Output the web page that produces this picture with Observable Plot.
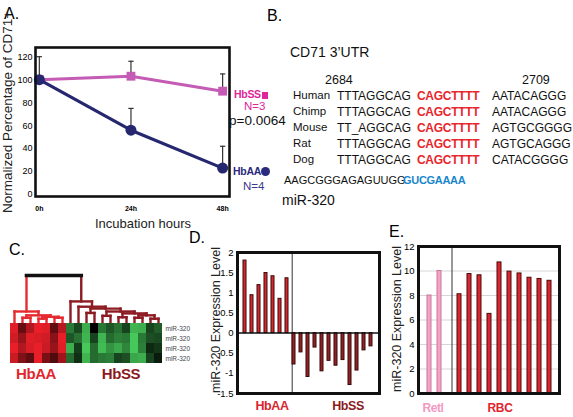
<!DOCTYPE html>
<html>
<head>
<meta charset="utf-8">
<script src="https://cdn.jsdelivr.net/npm/d3@7"></script>
<script src="https://cdn.jsdelivr.net/npm/@observablehq/plot@0.6"></script>
<style>
  html, body { margin: 0; padding: 0; background: #fff; }
  #root { position: relative; width: 573px; height: 417px; overflow: hidden; background: #fff;
          font-family: "Liberation Sans", Arial, Helvetica, sans-serif; }
  #root svg { position: absolute; }
  .t { position: absolute; white-space: nowrap; line-height: 1.15; }
</style>
</head>
<body>
<div id="root"></div>
<script>
// ---------------- DATA ----------------
// Panel A
const hours = [0, 24, 48];
const hbssMean = [100, 103, 90];
const hbssUpper = [120, 116, 105];
const hbaaMean = [100, 56, 23];
const hbaaUpper = [100, 75, 42];
const yTicksA = [0, 20, 40, 60, 80, 100, 120];

// Panel B
const species = ["Human", "Chimp", "Mouse", "Rat", "Dog"];
const seqLeft = ["TTTAGGCAG", "TTTAGGCAG", "TT_AGGCAG", "TTTAGGCAG", "TTTAGGCAG"];
const seqSeed = ["CAGCTTTT", "CAGCTTTT", "CAGCTTTT", "CAGCTTTT", "CAGCTTTT"];
const seqRight = ["AATACAGGG", "AATACAGGG", "AGTGCGGGG", "AGTGCAGGG", "CATACGGGG"];
const mirSeq = "AAGCGGGAGAGUUGG";
const mirSeed = "GUCGAAAA";

// Panel C heatmap (rows = miR-320 probes, columns = 7 HbAA + 12 HbSS samples)
const heatRow0 = [2.8, 1.3, 2.2, 2.9, 2.8, 1.2, 2.3, -1.8, -1.1, -2.6, 0.0, -1.8, -1.3, -1.7, -1.0, -2.7, -2.6, -1.0, -1.4];
const heatRow1 = [2.6, 1.9, 2.8, 2.7, 2.6, 1.7, 2.9, -1.3, -1.7, -2.7, -1.0, -2.7, -1.6, -1.9, -1.8, -3.0, -1.8, -1.2, -1.1];
const heatRow2 = [2.9, 2.2, 2.7, 2.9, 2.5, 1.9, 2.8, -2.6, -0.9, -3.0, -1.6, -2.8, -2.2, -2.5, -2.0, -3.0, -1.9, -0.6, -0.8];
const heatRow3 = [2.5, 1.6, 1.2, 2.9, 1.5, 1.0, 2.0, -1.6, -0.7, -2.7, -1.6, -1.8, -1.9, -1.0, -1.2, -2.5, -2.6, -1.0, -0.4];
// dendrogram: [height, child, child...]; numbers are leaf column indexes
const dendroTree = [10,
  [2.5, 0, [1.7, [1.2, 1, 2], [1.4, [1.0, 3, 4], [1.2, 5, 6]]]],
  [4.6, 7, [3.5, 8, [3.1, [2.2, 9, 10], [2.5, [1.6, 11, 12], [2.1, [1.3, 13, 14], [1.7, [1.2, 15, 16], [1.0, 17, 18]]]]]]]
];

// Panel D
const dHbAA = [1.8, 0.94, 1.19, 1.49, 1.41, 0.85, 1.36];
const dHbSS = [-0.78, -0.48, -1.09, -0.36, -0.95, -0.69, -0.81, -0.67, -1.29, -0.93, -0.43, -0.33];
const yTicksD = [-1.5, -1, -0.5, 0, 0.5, 1, 1.5, 2];

// Panel E
const eRetl = [8.0, 10.0];
const eRBC = [8.1, 9.75, 9.65, 6.5, 10.7, 9.95, 9.8, 9.45, 9.35, 9.2];
const yTicksE = [0, 2, 4, 6, 8, 10, 12];

// ---------------- HELPERS ----------------
const root = document.getElementById("root");
const FONT = '"Liberation Sans", Arial, Helvetica, sans-serif';
const NARROW = '"Liberation Sans Narrow", "Liberation Sans", Arial, sans-serif';

function place(svg, left, top) {
  svg.style.left = left + "px";
  svg.style.top = top + "px";
  root.append(svg);
}
function text(str, x, y, o = {}) {
  const el = document.createElement("div");
  el.className = "t";
  el.textContent = str;
  el.style.fontSize = (o.size || 12) + "px";
  el.style.fontWeight = o.weight || "normal";
  el.style.color = o.color || "#000";
  if (o.family) el.style.fontFamily = o.family;
  if (o.spacing) el.style.letterSpacing = o.spacing + "px";
  el.style.left = x + "px";
  el.style.top = y + "px";
  if (o.rotate) el.style.transform = "translate(-50%,-50%) rotate(-90deg)";
  else if (o.anchor === "middle") el.style.transform = "translate(-50%,-50%)";
  else el.style.transform = "translateY(-50%)";
  root.append(el);
  return el;
}
const baseStyle = {background: "none", fontFamily: FONT, overflow: "visible"};

// ---------------- PANEL A ----------------
const aData = [
  ...hours.map((h, i) => ({group: "HbSS", hour: h, value: hbssMean[i], upper: hbssUpper[i]})),
  ...hours.map((h, i) => ({group: "HbAA", hour: h, value: hbaaMean[i], upper: hbaaUpper[i]}))
];
const capSymbol = {draw(ctx, size) { const w = Math.sqrt(size) / 2; ctx.moveTo(-w, 0); ctx.lineTo(w, 0); }};
const ss = aData.filter(d => d.group === "HbSS");
const aa = aData.filter(d => d.group === "HbAA");
const errs = aData.filter(d => d.upper > d.value);
const plotA = Plot.plot({
  width: 240, height: 235,
  marginLeft: 35, marginTop: 47, marginRight: 11, marginBottom: 39,
  style: baseStyle,
  x: {domain: [-1, 49.8]},
  y: {domain: [-1.7, 128]},
  marks: [
    Plot.axisY({ticks: yTicksA, tickSize: 0, tickPadding: 3, fontSize: 9, label: null}),
    Plot.axisX({ticks: hours, tickFormat: d => d + "h", tickSize: 0, tickPadding: 10, fontSize: 7, fontWeight: "bold", label: null}),
    Plot.ruleX(errs, {x: "hour", y1: "value", y2: "upper", stroke: "#333", strokeWidth: 1.2}),
    Plot.dot(errs, {x: "hour", y: "upper", symbol: capSymbol, r: 3, stroke: "#333", strokeWidth: 1.2, fill: "none"}),
    Plot.line(ss, {x: "hour", y: "value", stroke: "#c45cb5", strokeWidth: 3}),
    Plot.dot(ss, {x: "hour", y: "value", symbol: "square", r: 5, fill: "#c45cb5", stroke: "none"}),
    Plot.line(aa, {x: "hour", y: "value", stroke: "#26286f", strokeWidth: 3.2}),
    Plot.dot(aa, {x: "hour", y: "value", symbol: "circle", r: 5.5, fill: "#26286f", stroke: "none"}),
    Plot.frame({stroke: "#111", strokeWidth: 2.6})
  ]
});
place(plotA, 0, 0);

text("A.", 4, 14, {size: 16});
text("Normalized Percentage of CD71+", 8, 112, {size: 13.5, rotate: true, color: "#222"});
text("Incubation hours", 143, 224, {size: 13, anchor: "middle", color: "#222"});
const ssLab = text("HbSS", 234, 94, {size: 10.5, weight: "bold", color: "#e0249a", spacing: -0.3});
const sq = document.createElement("span");
sq.style.cssText = "display:inline-block;width:6px;height:7px;background:#e0249a;margin-left:1px;vertical-align:-0.5px";
ssLab.append(sq);
text("N=3", 244, 107, {size: 11.5, color: "#e0249a"});
text("p=0.0064", 229, 121, {size: 13.5, color: "#111"});
const aaLab = text("HbAA", 233, 171, {size: 10.5, weight: "bold", color: "#2b2a7c", spacing: -0.3});
const ci = document.createElement("span");
ci.style.cssText = "display:inline-block;width:9px;height:9px;border-radius:50%;background:#2b2a7c;margin-left:0px;vertical-align:-1px";
aaLab.append(ci);
text("N=4", 243, 187, {size: 11.5, color: "#3a3a8a"});

// ---------------- PANEL B ----------------
text("B.", 267, 16, {size: 16});
text("CD71 3\u2019UTR", 290, 52, {size: 14, color: "#111"});
text("2684", 325, 80, {size: 12.5, color: "#111"});
text("2709", 522, 80, {size: 12.5, color: "#111"});
species.forEach((s, i) => {
  const y = 97 + i * 16;
  text(s, 293, y - 1.5, {size: 11.5, color: "#111"});
  text(seqLeft[i], 337, y, {size: 12, color: "#111"});
  text(seqSeed[i], 417, y, {size: 12, weight: "bold", color: "#e8252d", spacing: -0.3});
  text(seqRight[i], 492, y, {size: 12, color: "#111"});
});
text(mirSeq, 284, 180, {size: 11, color: "#111"});
text(mirSeed, 403, 180, {size: 11, weight: "bold", color: "#1a86cc", spacing: -0.3});
text("miR-320", 282, 200, {size: 14, color: "#111"});

// ---------------- PANEL C ----------------
text("C.", 9, 250, {size: 16});
const segs = [];
function layout(node, color, isRoot) {
  if (typeof node === "number") return {x: node + 0.5, h: 0};
  const [h, ...kids] = node;
  const kidColors = isRoot ? ["#e52a30", "#8d1b22"] : kids.map(() => color);
  const ks = kids.map((k, i) => layout(k, kidColors[i], false));
  ks.forEach((k, i) => segs.push({x1: k.x, x2: k.x, y1: h, y2: k.h, stroke: kidColors[i], w: 2.4}));
  segs.push({x1: ks[0].x, x2: ks[ks.length - 1].x, y1: h, y2: h, stroke: isRoot ? "#111" : color, w: isRoot ? 3.6 : 2.4});
  return {x: (ks[0].x + ks[ks.length - 1].x) / 2, h};
}
layout(dendroTree, "#111", true);
const plotDendro = Plot.plot({
  width: 175, height: 60,
  marginLeft: 10, marginRight: 13, marginTop: 10, marginBottom: 2,
  style: baseStyle,
  x: {domain: [0, 19], axis: null},
  y: {domain: [0, 10], axis: null},
  color: {type: "identity"},
  marks: [
    Plot.link(segs, {x1: "x1", x2: "x2", y1: "y1", y2: "y2", stroke: "stroke", strokeWidth: "w", strokeLinecap: "square"})
  ]
});
place(plotDendro, 0, 265);

const heatRows = [heatRow0, heatRow1, heatRow2, heatRow3];
const heatData = heatRows.flatMap((row, r) => row.map((v, c) => ({row: r, col: c, v})));
const heatColor = d3.scaleLinear().domain([-3, 0, 3]).range(["#46c85a", "#000000", "#f0202a"]).clamp(true);
const plotHeat = Plot.plot({
  width: 200, height: 42,
  marginLeft: 10, marginRight: 38, marginTop: 0, marginBottom: 2,
  style: baseStyle,
  x: {type: "band", domain: d3.range(19), padding: 0, axis: null},
  y: {type: "band", domain: d3.range(4), padding: 0, axis: null},
  marks: [
    Plot.cell(heatData, {x: "col", y: "row", fill: d => heatColor(d.v), inset: 0}),
    Plot.axisY(d3.range(4), {anchor: "right", tickSize: 0, tickPadding: 3, fontSize: 6.5, tickFormat: () => "miR-320", label: null, fill: "#444"})
  ]
});
place(plotHeat, 0, 323);
text("HbAA", 36, 374, {size: 15, weight: "bold", color: "#e3262e", anchor: "middle", spacing: -0.4});
text("HbSS", 121, 374, {size: 15, weight: "bold", color: "#8b1a1f", anchor: "middle", spacing: -0.4});

// ---------------- PANEL D ----------------
text("D.", 189, 238, {size: 16});
const dData = [
  ...dHbAA.map((v, i) => ({i, v, g: "HbAA"})),
  ...dHbSS.map((v, i) => ({i: i + dHbAA.length, v, g: "HbSS"}))
];
const plotD = Plot.plot({
  width: 200, height: 170,
  marginLeft: 52, marginRight: 6, marginTop: 12, marginBottom: 17,
  style: {...baseStyle, fontFamily: NARROW},
  x: {type: "band", domain: d3.range(dData.length), paddingInner: 0.55, paddingOuter: 0.275, axis: null},
  y: {domain: [-1.5, 2]},
  marks: [
    Plot.axisY({ticks: yTicksD, tickFormat: d => String(d), tickSize: 0, tickPadding: 4, fontSize: 9.5, label: null}),
    Plot.ruleX([dHbAA.length], {stroke: "#333", strokeWidth: 1, dx: -1.8}),
    Plot.barY(dData, {x: "i", y: "v", fill: d => d.g === "HbAA" ? "#d5282e" : "#8e2326", stroke: "#3a0808", strokeWidth: 1}),
    Plot.ruleY([0], {stroke: "#111", strokeWidth: 1.6}),
    Plot.frame({stroke: "#111", strokeWidth: 3})
  ]
});
place(plotD, 185, 240);
text("miR-320 Expression Level", 216, 320, {size: 12.5, rotate: true, color: "#222"});
text("HbAA", 272, 406, {size: 12.5, weight: "bold", color: "#d9252d", anchor: "middle", spacing: -0.4});
text("HbSS", 348, 406, {size: 12.5, weight: "bold", color: "#8b1a1f", anchor: "middle", spacing: -0.4});

// ---------------- PANEL E ----------------
text("E.", 389, 232, {size: 16});
const eData = [
  ...eRetl.map((v, i) => ({i, v, g: "Retl"})),
  ...eRBC.map((v, i) => ({i: i + eRetl.length + 1, v, g: "RBC"}))
];
const plotE = Plot.plot({
  width: 200, height: 170,
  marginLeft: 48, marginRight: 11, marginTop: 10, marginBottom: 13,
  style: {...baseStyle, fontFamily: NARROW},
  x: {type: "band", domain: d3.range(eRetl.length + 1 + eRBC.length), paddingInner: 0.65, paddingOuter: 0.325, axis: null},
  y: {domain: [0, 12]},
  marks: [
    Plot.gridY({ticks: yTicksE.slice(1, -1), stroke: "#d6d6d6", strokeOpacity: 1}),
    Plot.axisY({ticks: yTicksE, tickSize: 0, tickPadding: 4, fontSize: 9.5, label: null}),
    Plot.ruleX([eRetl.length], {stroke: "#333", strokeWidth: 1, dx: 2.5}),
    Plot.barY(eData, {x: "i", y: "v", fill: d => d.g === "Retl" ? "#f2a3c6" : "#db2630", stroke: d => d.g === "Retl" ? "#c8789c" : "#4a0a0a", strokeWidth: 1}),
    Plot.frame({stroke: "#111", strokeWidth: 3})
  ]
});
place(plotE, 370, 236);
text("miR-320 Expression Level", 397, 319, {size: 12.5, rotate: true, color: "#222"});
text("Retl", 433, 409, {size: 12, weight: "bold", color: "#f29ac2", anchor: "middle", spacing: -0.4});
text("RBC", 500, 409, {size: 12, weight: "bold", color: "#e0262e", anchor: "middle", spacing: -0.4});
</script>
</body>
</html>
